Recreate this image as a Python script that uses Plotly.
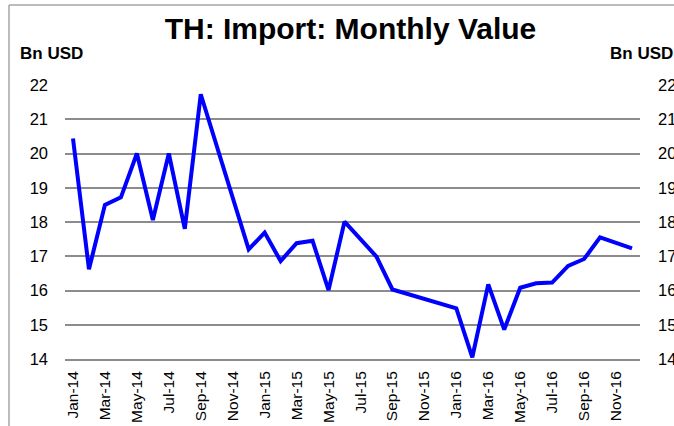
import plotly.graph_objects as go

# Monthly import value, Jan-2014 .. Dec-2016 (Bn USD)
months = [f"{m}-{y}" for y in ("14", "15", "16")
          for m in ("Jan", "Feb", "Mar", "Apr", "May", "Jun",
                    "Jul", "Aug", "Sep", "Oct", "Nov", "Dec")]
import_value = [
    20.44, 16.62, 18.50, 18.72, 20.00, 18.06, 20.00, 17.80, 21.73, 20.22, 18.70, 17.20,
    17.69, 16.86, 17.38, 17.45, 16.01, 18.01, 17.50, 16.99, 16.03, 15.89, 15.75, 15.62,
    15.48, 14.05, 16.18, 14.86, 16.08, 16.21, 16.23, 16.72, 16.92, 17.55, 17.40, 17.23,
]
y_ticks = [14, 15, 16, 17, 18, 19, 20, 21, 22]
x_tick_labels = months[::2]

FONT = "Liberation Sans, Arial, sans-serif"
GRID = "#8c8c8c"

fig = go.Figure()
fig.add_trace(go.Scatter(
    x=months, y=import_value, mode="lines",
    line=dict(color="#0000ff", width=4),
    hoverinfo="x+y", showlegend=False,
))
# invisible twin so the right axis shows the same scale
fig.add_trace(go.Scatter(
    x=months, y=import_value, mode="lines", yaxis="y2",
    line=dict(color="rgba(0,0,0,0)"), hoverinfo="skip", showlegend=False,
))

fig.update_layout(
    width=674, height=426,
    margin=dict(l=65, r=34, t=85, b=67),
    paper_bgcolor="white", plot_bgcolor="white",
    font=dict(family=FONT, color="black"),
    title=dict(text="<b>TH: Import: Monthly Value</b>",
               font=dict(size=30, family=FONT, color="black"),
               x=0.52, xanchor="center", y=0.958, yanchor="top"),
    xaxis=dict(
        type="category", categoryorder="array", categoryarray=months,
        tickmode="array", tickvals=x_tick_labels, ticktext=x_tick_labels,
        tickangle=-90, tickfont=dict(size=15.5, family=FONT),
        showgrid=False, showline=True, linecolor=GRID, linewidth=2,
        ticks="", ticklabelstandoff=4, range=[-0.5, 35.5], automargin=False,
    ),
    yaxis=dict(
        range=[14, 22], tickvals=y_ticks, tickfont=dict(size=16.5, family=FONT),
        showgrid=True, gridcolor=GRID, gridwidth=1.5, zeroline=False,
        showline=False, ticks="", ticklabelstandoff=16, automargin=False,
    ),
    yaxis2=dict(
        range=[14, 22], tickvals=y_ticks, tickfont=dict(size=16.5, family=FONT),
        overlaying="y", side="right", showgrid=False, zeroline=False,
        showline=False, ticks="", ticklabelstandoff=17, automargin=False,
    ),
    annotations=[
        dict(text="<b>Bn USD</b>", xref="paper", yref="paper",
             x=-0.082, y=1.115, xanchor="left", yanchor="middle",
             showarrow=False, font=dict(size=17, family=FONT)),
        dict(text="<b>Bn USD</b>", xref="paper", yref="paper",
             x=0.944, y=1.115, xanchor="left", yanchor="middle",
             showarrow=False, font=dict(size=17, family=FONT)),
    ],
    shapes=[
        dict(type="line", xref="paper", yref="paper",
             x0=-0.0974, x1=-0.0974, y0=-0.5, y1=1.292,
             line=dict(color="#a6a6a6", width=1.5)),
        dict(type="line", xref="paper", yref="paper",
             x0=-0.0974, x1=1.2, y0=1.292, y1=1.292,
             line=dict(color="#a6a6a6", width=1.5)),
    ],
)

fig.write_html("out.html")
